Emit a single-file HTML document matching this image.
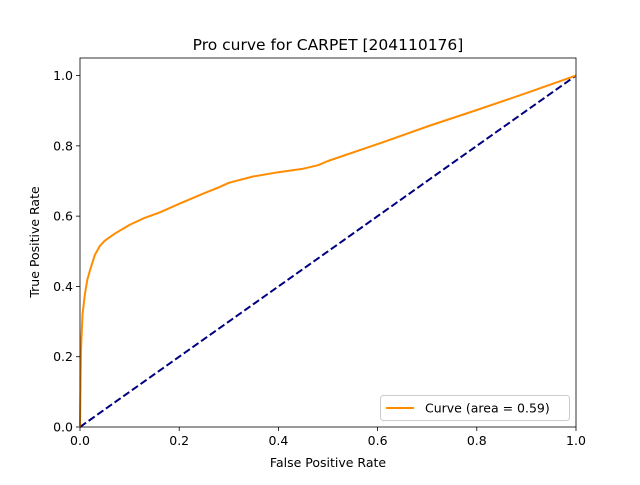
<!DOCTYPE html>
<html><head><meta charset="utf-8"><style>
body{margin:0;background:#fff;font-family:"Liberation Sans","DejaVu Sans",sans-serif;}
svg text{font-family:"DejaVu Sans","Liberation Sans",sans-serif;}
</style></head><body>
<svg id="chart" width="640" height="480" xmlns="http://www.w3.org/2000/svg">
<rect width="640" height="480" fill="#fff"/>
<text x="328" y="50" text-anchor="middle" font-size="15.5">Pro curve for CARPET [204110176]</text>
<g id="plot"></g>
<text x="328" y="467" text-anchor="middle" font-size="12.5">False Positive Rate</text>
<text x="0" y="0" transform="translate(39,242) rotate(-90)" text-anchor="middle" font-size="12.5">True Positive Rate</text>
</svg>
<script>
const fprValues=[0,0.002,0.005,0.01,0.015,0.02,0.03,0.04,0.05,0.07,0.1,0.13,0.16,0.2,0.25,0.28,0.3,0.35,0.4,0.45,0.48,0.5,0.6,0.7,0.8,0.9,1];
const tprValues=[0,0.22,0.32,0.38,0.42,0.445,0.49,0.515,0.53,0.55,0.575,0.595,0.61,0.635,0.665,0.682,0.695,0.713,0.725,0.735,0.745,0.757,0.805,0.855,0.902,0.95,1];
const xTicks=[0,0.2,0.4,0.6,0.8,1.0];
const yTicks=[0,0.2,0.4,0.6,0.8,1.0];
const areaLabel="Curve (area = 0.59)";
const L=80,R=576,T=58,B=427,YMAX=1.05;
const sx=v=>L+v*(R-L), sy=v=>B-v/YMAX*(B-T);
const NS="http://www.w3.org/2000/svg";
const g=document.getElementById('plot');
function mk(tag,attrs){const e=document.createElementNS(NS,tag);for(const k in attrs)e.setAttribute(k,attrs[k]);g.appendChild(e);return e;}
xTicks.forEach(t=>{
 const l=mk('line',{x1:sx(t),x2:sx(t),y1:B,y2:B+4,stroke:'#000','stroke-width':0.8});
 
 
 const tx=mk('text',{x:sx(t),y:B+18,'text-anchor':'middle','font-size':12.5});
 tx.textContent=t.toFixed(1);
 
 
});
yTicks.forEach(t=>{
 const l=mk('line',{x1:L-4,x2:L,y1:sy(t),y2:sy(t),stroke:'#000','stroke-width':0.8});
 
 
 const tx=mk('text',{x:L-7,y:sy(t)+4.5,'text-anchor':'end','font-size':12.5});
 tx.textContent=t.toFixed(1);
 
 
});
const diag=mk('line',{x1:sx(0),y1:sy(0),x2:sx(1),y2:sy(1),stroke:'#000080','stroke-width':2,'stroke-dasharray':'7.4,3.2'});


const pts=fprValues.map((v,i)=>sx(v).toFixed(1)+','+sy(tprValues[i]).toFixed(1)).join(' ');
const curve=mk('polyline',{points:pts,fill:'none',stroke:'#ff8c00','stroke-width':2,'stroke-linejoin':'round'});


const frame=mk('rect',{x:L,y:T,width:R-L,height:B-T,fill:'none',stroke:'#000','stroke-width':0.8});


const lg=mk('rect',{x:380.5,y:395.5,width:189,height:25,rx:3,fill:'#fff','fill-opacity':0.8,stroke:'#ccc','stroke-width':1});


const ll=mk('line',{x1:386,x2:414,y1:408,y2:408,stroke:'#ff8c00','stroke-width':2});


const lt=mk('text',{x:425,y:412.5,'font-size':12.5});
lt.textContent=areaLabel;


</script>
</body></html>
